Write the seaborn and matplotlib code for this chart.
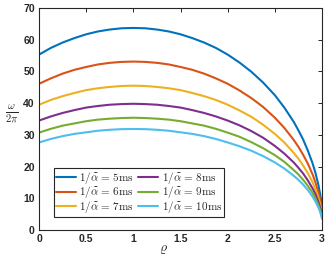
import matplotlib
matplotlib.use("Agg")
import matplotlib.pyplot as plt
import seaborn as sns
import pandas as pd

# values
rho = [0, 0.125, 0.25, 0.375, 0.5, 0.625, 0.75, 0.875, 1, 1.125, 1.25, 1.375, 1.5, 1.625,
       1.75, 1.875, 2, 2.125, 2.25, 2.375, 2.5, 2.6, 2.7, 2.75, 2.8, 2.85, 2.9, 2.93,
       2.96, 2.98, 2.99, 3]
w_5ms = [55.3, 57.4, 59.1, 60.5, 61.7, 62.6, 63.2, 63.6, 63.7, 63.6, 63.2, 62.6, 61.7, 60.5,
         59.1, 57.4, 55.3, 52.8, 49.9, 46.5, 42.5, 38.6, 34.1, 31.4, 28.5, 25.0, 21.0, 18.0,
         14.4, 11.3, 9.4, 7.0]
w_6ms = [46.1, 47.8, 49.3, 50.5, 51.4, 52.2, 52.7, 53.0, 53.1, 53.0, 52.7, 52.2, 51.4, 50.5,
         49.3, 47.8, 46.1, 44.0, 41.6, 38.8, 35.4, 32.2, 28.4, 26.2, 23.7, 20.9, 17.5, 15.0,
         12.0, 9.5, 7.9, 5.8]
w_7ms = [39.5, 41.0, 42.2, 43.2, 44.1, 44.7, 45.1, 45.4, 45.5, 45.4, 45.1, 44.7, 44.1, 43.2,
         42.2, 41.0, 39.5, 37.7, 35.7, 33.2, 30.3, 27.6, 24.3, 22.5, 20.3, 17.9, 15.0, 12.9,
         10.3, 8.1, 6.7, 5.0]
w_8ms = [34.5, 35.8, 36.9, 37.8, 38.6, 39.1, 39.5, 39.7, 39.8, 39.7, 39.5, 39.1, 38.6, 37.8,
         36.9, 35.8, 34.5, 33.0, 31.2, 29.1, 26.5, 24.1, 21.3, 19.6, 17.8, 15.6, 13.1, 11.3,
         9.0, 7.1, 5.9, 4.4]
w_9ms = [30.7, 31.9, 32.9, 33.6, 34.3, 34.8, 35.1, 35.3, 35.4, 35.3, 35.1, 34.8, 34.3, 33.6,
         32.9, 31.9, 30.7, 29.4, 27.7, 25.8, 23.6, 21.5, 18.9, 17.5, 15.8, 13.9, 11.7, 10.0,
         8.0, 6.3, 5.2, 3.9]
w_10ms = [27.6, 28.7, 29.6, 30.3, 30.8, 31.3, 31.6, 31.8, 31.85, 31.8, 31.6, 31.3, 30.8, 30.3,
          29.6, 28.7, 27.6, 26.4, 25.0, 23.3, 21.3, 19.4, 17.1, 15.8, 14.3, 12.6, 10.5, 9.0,
          7.2, 5.7, 4.7, 3.5]

labels = [r"$1/\widetilde{\alpha}\,=\,5\mathrm{ms}$", r"$1/\widetilde{\alpha}\,=\,6\mathrm{ms}$",
          r"$1/\widetilde{\alpha}\,=\,7\mathrm{ms}$", r"$1/\widetilde{\alpha}\,=\,8\mathrm{ms}$",
          r"$1/\widetilde{\alpha}\,=\,9\mathrm{ms}$", r"$1/\widetilde{\alpha}\,=\,10\mathrm{ms}$"]
series = [w_5ms, w_6ms, w_7ms, w_8ms, w_9ms, w_10ms]
colors = ["#0072BD", "#D95319", "#EDB120", "#7E2F8E", "#77AC30", "#4DBEEE"]

# long form table for seaborn
rows = []
for lab, ys in zip(labels, series):
    for x, y in zip(rho, ys):
        rows.append({"rho": x, "omega": y, "tau": lab})
df = pd.DataFrame(rows)

sns.set_style("white")
plt.rcParams["font.family"] = ["Liberation Sans", "DejaVu Sans"]
plt.rcParams["mathtext.fontset"] = "cm"

fig = plt.figure(figsize=(3.32, 2.57), dpi=100)
ax = fig.add_axes([0.1175, 0.105, 0.8525, 0.864])

sns.lineplot(data=df, x="rho", y="omega", hue="tau", hue_order=labels,
             palette=colors, linewidth=1.5, errorbar=None, ax=ax)

ax.set_xlim(0, 3)
ax.set_ylim(0, 70)
ax.set_xticks([0, 0.5, 1, 1.5, 2, 2.5, 3])
ax.set_xticklabels(["0", "0.5", "1", "1.5", "2", "2.5", "3"])
ax.set_yticks(range(0, 71, 10))
ax.tick_params(direction="in", length=3, width=0.7, top=True, right=True,
               labelsize=7.5, colors="#262626", pad=3)
for lbl in ax.get_xticklabels() + ax.get_yticklabels():
    lbl.set_fontweight("bold")
for sp in ax.spines.values():
    sp.set_color("#262626")
    sp.set_linewidth(0.8)

ax.set_xlabel(r"$\varrho$", fontsize=10)
ax.xaxis.set_label_coords(0.44, -0.055)
ax.set_ylabel(r"$\frac{\omega}{2\pi}$", fontsize=11, rotation=0)
ax.yaxis.set_label_coords(-0.095, 0.47)

leg = ax.legend(loc="upper left", bbox_to_anchor=(0.053, 0.28), borderaxespad=0,
                ncol=2, fontsize=8, handlelength=1.8, handletextpad=0.3,
                columnspacing=0.4, labelspacing=-0.1, borderpad=0.15,
                fancybox=False, framealpha=1)
leg.get_frame().set_edgecolor("#262626")
leg.get_frame().set_linewidth(0.8)

fig.savefig("out.png", dpi=100)
